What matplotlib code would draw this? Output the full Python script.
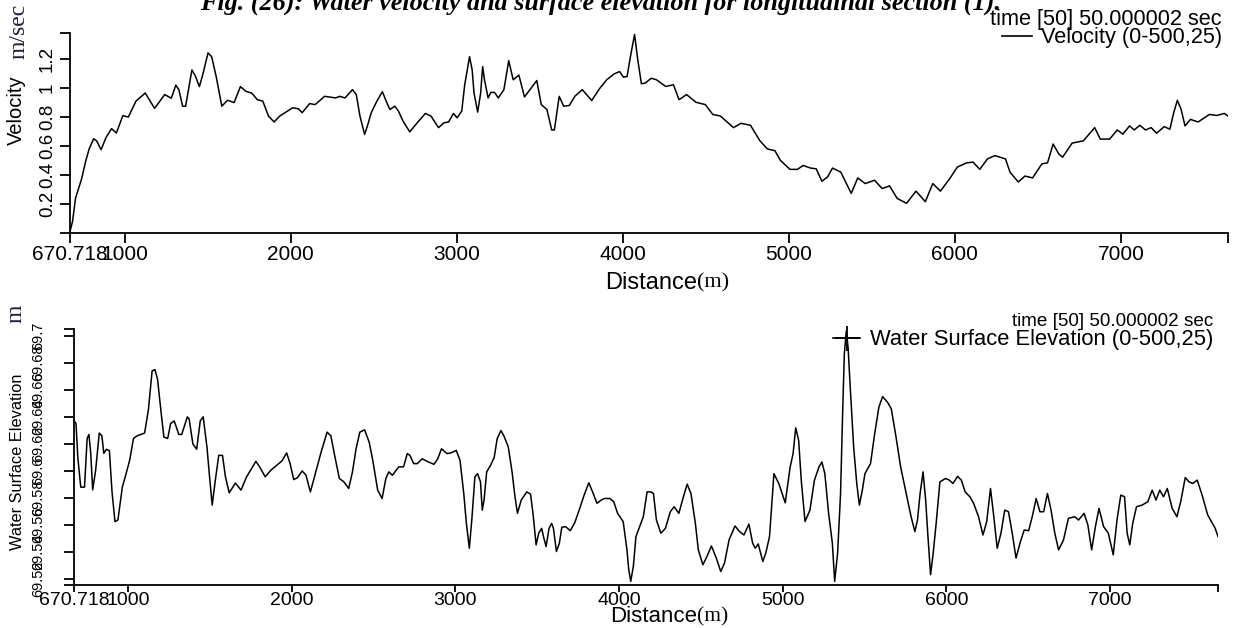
import matplotlib
matplotlib.use("Agg")
import matplotlib.pyplot as plt
from matplotlib.lines import Line2D

# velocity along the section (m/sec)
vel_dist = [670.7, 686, 704, 741, 764, 786, 813, 831, 858, 888, 921, 950, 989, 1022, 1068,
            1124, 1180, 1241, 1281, 1308, 1326, 1349, 1367, 1405, 1427, 1450, 1472, 1502, 1524,
            1551, 1585, 1619, 1659, 1697, 1731, 1765, 1799, 1832, 1866, 1900, 1934, 1979, 2012,
            2046, 2069, 2114, 2147, 2204, 2271, 2294, 2327, 2372, 2395, 2417, 2445, 2462, 2485,
            2519, 2552, 2575, 2597, 2627, 2649, 2676, 2717, 2766, 2811, 2845, 2890, 2924, 2951,
            2980, 3002, 3030, 3048, 3077, 3093, 3104, 3126, 3144, 3156, 3167, 3189, 3205, 3228,
            3250, 3284, 3313, 3340, 3374, 3408, 3441, 3482, 3509, 3543, 3572, 3588, 3617, 3644,
            3678, 3711, 3756, 3813, 3858, 3903, 3948, 3981, 4004, 4026, 4044, 4071, 4089, 4112,
            4134, 4172, 4203, 4259, 4305, 4339, 4384, 4441, 4497, 4542, 4588, 4622, 4667, 4712,
            4769, 4826, 4871, 4916, 4950, 5007, 5052, 5086, 5131, 5165, 5199, 5233, 5263, 5313,
            5347, 5376, 5415, 5460, 5516, 5562, 5607, 5652, 5709, 5766, 5822, 5867, 5913, 5969,
            6015, 6071, 6110, 6150, 6196, 6241, 6305, 6332, 6382, 6422, 6468, 6524, 6558, 6592,
            6626, 6649, 6706, 6774, 6808, 6842, 6876, 6932, 6978, 7012, 7052, 7080, 7114, 7148,
            7182, 7215, 7261, 7295, 7318, 7340, 7363, 7386, 7419, 7465, 7533, 7578, 7623, 7645]
vel_vals = [0.01, 0.08, 0.24, 0.375, 0.49, 0.58, 0.65, 0.636, 0.575, 0.66, 0.72, 0.69, 0.81, 0.80,
            0.91, 0.966, 0.86, 0.955, 0.93, 1.02, 0.99, 0.875, 0.875, 1.125, 1.08, 1.01, 1.10, 1.243,
            1.216, 1.08, 0.875, 0.916, 0.90, 1.01, 0.977, 0.966, 0.92, 0.91, 0.807, 0.766, 0.807,
            0.84, 0.864, 0.857, 0.83, 0.893, 0.886, 0.943, 0.932, 0.943, 0.932, 0.989, 0.955, 0.807,
            0.68, 0.739, 0.83, 0.91, 0.975, 0.91, 0.852, 0.875, 0.841, 0.773, 0.698, 0.766, 0.825,
            0.807, 0.727, 0.761, 0.766, 0.825, 0.795, 0.841, 1.023, 1.216, 1.125, 0.966, 0.834,
            0.966, 1.148, 1.057, 0.932, 0.97, 0.97, 0.932, 0.989, 1.189, 1.057, 1.09, 0.939, 0.989,
            1.052, 0.886, 0.852, 0.711, 0.711, 0.943, 0.875, 0.88, 0.943, 0.989, 0.914, 0.993,
            1.057, 1.098, 1.114, 1.075, 1.08, 1.205, 1.37, 1.205, 1.03, 1.034, 1.068, 1.057, 1.011,
            1.023, 0.92, 0.955, 0.902, 0.886, 0.818, 0.807, 0.773, 0.727, 0.757, 0.743, 0.636, 0.58,
            0.568, 0.50, 0.439, 0.439, 0.466, 0.448, 0.443, 0.357, 0.386, 0.448, 0.42, 0.341, 0.273,
            0.38, 0.341, 0.364, 0.307, 0.325, 0.239, 0.205, 0.289, 0.216, 0.341, 0.289, 0.375, 0.455,
            0.484, 0.489, 0.439, 0.511, 0.534, 0.511, 0.42, 0.352, 0.393, 0.38, 0.477, 0.484, 0.614,
            0.545, 0.523, 0.62, 0.636, 0.682, 0.727, 0.648, 0.648, 0.711, 0.682, 0.739, 0.711, 0.743,
            0.711, 0.727, 0.689, 0.734, 0.716, 0.83, 0.916, 0.852, 0.739, 0.784, 0.766, 0.818, 0.811,
            0.825, 0.807]

# water surface elevation (m)
wse_dist = [671, 683, 694, 712, 735, 751, 762, 773, 785, 803, 825, 841, 853, 869, 887, 903, 921,
            939, 966, 989, 1011, 1034, 1057, 1102, 1125, 1148, 1165, 1181, 1204, 1220, 1243, 1261,
            1283, 1311, 1329, 1363, 1374, 1397, 1420, 1442, 1460, 1483, 1499, 1515, 1533, 1555,
            1578, 1596, 1619, 1657, 1691, 1725, 1755, 1782, 1805, 1839, 1873, 1907, 1941, 1970,
            1991, 2013, 2036, 2065, 2088, 2115, 2145, 2179, 2217, 2240, 2263, 2292, 2319, 2349,
            2372, 2394, 2417, 2446, 2474, 2496, 2526, 2553, 2576, 2594, 2616, 2632, 2655, 2684,
            2707, 2723, 2746, 2768, 2798, 2836, 2870, 2893, 2916, 2950, 2973, 3006, 3029, 3052,
            3068, 3086, 3101, 3120, 3136, 3154, 3165, 3176, 3192, 3215, 3238, 3256, 3279, 3297,
            3324, 3347, 3365, 3380, 3403, 3437, 3460, 3476, 3494, 3510, 3528, 3539, 3555, 3573,
            3589, 3600, 3618, 3636, 3651, 3674, 3703, 3730, 3757, 3787, 3816, 3839, 3866, 3891,
            3911, 3945, 3968, 3992, 4026, 4049, 4060, 4072, 4088, 4104, 4127, 4149, 4172, 4195,
            4211, 4229, 4256, 4284, 4314, 4337, 4366, 4394, 4417, 4440, 4467, 4485, 4513, 4542,
            4565, 4595, 4622, 4645, 4673, 4709, 4737, 4764, 4794, 4817, 4833, 4851, 4879, 4897,
            4920, 4947, 4977, 5016, 5046, 5064, 5080, 5098, 5114, 5137, 5167, 5194, 5222, 5240,
            5258, 5281, 5304, 5318, 5336, 5354, 5366, 5377, 5389, 5400, 5411, 5434, 5453, 5469,
            5487, 5503, 5537, 5561, 5588, 5611, 5641, 5664, 5693, 5721, 5755, 5785, 5808, 5824,
            5840, 5858, 5874, 5888, 5904, 5920, 5938, 5961, 5995, 6018, 6041, 6069, 6092, 6115,
            6144, 6167, 6197, 6224, 6247, 6270, 6288, 6311, 6334, 6357, 6380, 6403, 6426, 6453,
            6476, 6503, 6526, 6549, 6572, 6595, 6618, 6640, 6663, 6686, 6716, 6746, 6785, 6808,
            6842, 6865, 6888, 6911, 6933, 6961, 6990, 7020, 7043, 7066, 7089, 7105, 7121, 7139,
            7162, 7196, 7231, 7258, 7281, 7304, 7327, 7350, 7380, 7409, 7432, 7460, 7483, 7506,
            7533, 7563, 7597, 7620, 7643, 7660]
wse_vals = [69.6373, 69.635, 69.610, 69.588, 69.588, 69.624, 69.627, 69.613, 69.586, 69.6005,
            69.628, 69.626, 69.613, 69.616, 69.615, 69.5845, 69.5625, 69.5637, 69.588, 69.598,
            69.608, 69.624, 69.626, 69.628, 69.645, 69.674, 69.675, 69.668, 69.642, 69.625, 69.624,
            69.635, 69.637, 69.627, 69.627, 69.640, 69.6385, 69.620, 69.616, 69.637, 69.640,
            69.6177, 69.5956, 69.5747, 69.592, 69.6115, 69.6115, 69.5956, 69.5838, 69.591, 69.5858,
            69.5956, 69.6017, 69.6071, 69.603, 69.5956, 69.6005, 69.604, 69.6074, 69.6133, 69.6054,
            69.5936, 69.595, 69.600, 69.5968, 69.5845, 69.598, 69.6133, 69.6287, 69.626, 69.6115,
            69.5944, 69.592, 69.587, 69.5993, 69.6164, 69.6287, 69.6304, 69.6213, 69.6079, 69.5858,
            69.5796, 69.5944, 69.5993, 69.5968, 69.5993, 69.603, 69.603, 69.6128, 69.6115, 69.6054,
            69.6054, 69.609, 69.6066, 69.6049, 69.609, 69.6164, 69.6128, 69.6133, 69.6152, 69.6079,
            69.5833, 69.5612, 69.5428, 69.5637, 69.5956, 69.598, 69.592, 69.571, 69.5784, 69.5993,
            69.604, 69.610, 69.6238, 69.6299, 69.626, 69.6177, 69.5993, 69.5809, 69.5686, 69.5784,
            69.5845, 69.5828, 69.5674, 69.5453, 69.554, 69.5575, 69.5514, 69.544, 69.5575, 69.5612,
            69.5575, 69.5404, 69.5465, 69.5583, 69.5588, 69.5558, 69.5617, 69.571, 69.582, 69.5912,
            69.5845, 69.576, 69.5784, 69.5796, 69.5796, 69.5772, 69.5686, 69.5625, 69.5416,
            69.5269, 69.5183, 69.5293, 69.5514, 69.5588, 69.5661, 69.5845, 69.5845, 69.5833,
            69.5637, 69.5539, 69.5575, 69.5698, 69.5735, 69.5686, 69.5809, 69.5902, 69.5833,
            69.5612, 69.5416, 69.5306, 69.5379, 69.5445, 69.5355, 69.5256, 69.5318, 69.549, 69.5593,
            69.5551, 69.5526, 69.5607, 69.5465, 69.5428, 69.546, 69.533, 69.5391, 69.5514, 69.598,
            69.5906, 69.5764, 69.6029, 69.6128, 69.6319, 69.6226, 69.593, 69.5625, 69.571, 69.593,
            69.6029, 69.6066, 69.598, 69.5686, 69.5465, 69.5183, 69.5391, 69.5833, 69.6398,
            69.6864, 69.7036, 69.6913, 69.6667, 69.6177, 69.5907, 69.5747, 69.5858, 69.598, 69.6054,
            69.6263, 69.6471, 69.655, 69.6508, 69.6459, 69.625, 69.603, 69.5833, 69.5661, 69.5551,
            69.5637, 69.5833, 69.5993, 69.5784, 69.5514, 69.5232, 69.5391, 69.5612, 69.5919,
            69.5944, 69.5932, 69.5907, 69.596, 69.5932, 69.5845, 69.5809, 69.576, 69.5661, 69.5526,
            69.5625, 69.587, 69.5686, 69.5428, 69.5539, 69.571, 69.5698, 69.5539, 69.5355, 69.5477,
            69.5563, 69.5558, 69.5666, 69.5796, 69.5698, 69.5698, 69.5833, 69.571, 69.5539, 69.5416,
            69.5489, 69.5649, 69.5661, 69.5637, 69.5686, 69.56, 69.5416, 69.5588, 69.5723, 69.5588,
            69.5539, 69.5379, 69.5637, 69.5821, 69.5809, 69.5539, 69.5453, 69.5612, 69.5735,
            69.5747, 69.5772, 69.5858, 69.5784, 69.5858, 69.5809, 69.587, 69.5723, 69.5661, 69.5772,
            69.5951, 69.5919, 69.5907, 69.5932, 69.5821, 69.5674, 69.5625, 69.5575, 69.5514]

x_ticks = [670.718, 1000, 2000, 3000, 4000, 5000, 6000, 7000]
x_labels = ["670.718", "1000", "2000", "3000", "4000", "5000", "6000", "7000"]
vel_ticks = [0.2, 0.4, 0.6, 0.8, 1.0, 1.2]
vel_labels = ["0.2", "0.4", "0.6", "0.8", "1", "1.2"]
wse_ticks = [69.52, 69.54, 69.56, 69.58, 69.60, 69.62, 69.64, 69.66, 69.68, 69.70]
wse_labels = ["69.52", "69.54", "69.56", "69.58", "69.6", "69.62", "69.64", "69.66", "69.68", "69.7"]

sans = "Liberation Sans"
serif = "Liberation Serif"
W, H = 1234, 628

fig = plt.figure(figsize=(12.34, 6.28), dpi=100)
fig.patch.set_facecolor("white")


def style_axes(ax, xlim, ylim, xsize, ysize, xpad, ypad):
    ax.set_xlim(*xlim)
    ax.set_ylim(*ylim)
    for s in ["top", "right"]:
        ax.spines[s].set_visible(False)
    for s in ["left", "bottom"]:
        ax.spines[s].set_linewidth(1.3)
    ax.tick_params(axis="both", which="both", direction="out", width=1.3, length=7, color="black")
    ax.tick_params(axis="x", pad=xpad, labelsize=xsize)
    ax.tick_params(axis="y", pad=ypad, labelsize=ysize)
    # little end caps of the axes
    ax.set_xticks([xlim[1]], minor=True)
    ax.set_yticks([ylim[0], ylim[1]], minor=True)
    for lab in ax.get_xticklabels():
        lab.set_fontfamily(sans)
    for lab in ax.get_yticklabels():
        lab.set_fontfamily(sans)
        lab.set_rotation(90)
        lab.set_va("center")
        lab.set_ha("right")


# ---- top: velocity
ax1 = fig.add_axes([70 / W, 1 - 233 / H, 1158 / W, 200 / H])
ax1.plot(vel_dist, vel_vals, color="black", lw=1.1)
ax1.set_xticks(x_ticks)
ax1.set_xticklabels(x_labels)
ax1.set_yticks(vel_ticks)
ax1.set_yticklabels(vel_labels)
style_axes(ax1, (670.718, 7645), (0, 1.38), 15, 13.5, 2, 3)

fig.text(16 / W, 1 - 110 / H, "Velocity", rotation=90, ha="center", va="center",
         fontsize=14.5, family=sans)
fig.text(19 / W, 1 - 31 / H, "m/sec", rotation=90, ha="center", va="center",
         fontsize=17, family=serif, color="#1c1c3c")
fig.text(697 / W, 1 - 283 / H, "Distance", ha="right", va="center", fontsize=17, family=sans)
fig.text(697 / W, 1 - 283 / H, "(m)", ha="left", va="center", fontsize=16, family=serif)

fig.text(1222 / W, 1 - 20 / H, "time [50] 50.000002 sec", ha="right", va="center",
         fontsize=15.7, family=sans)
h1 = Line2D([], [], color="black", lw=1.2)
ax1.legend([h1], ["Velocity (0-500,25)"], loc="center right",
           bbox_to_anchor=(1222 / W, 1 - 38 / H), bbox_transform=fig.transFigure,
           frameon=False, handlelength=1.4, handletextpad=0.4, borderpad=0, borderaxespad=0,
           prop={"family": sans, "size": 15.7})

# ---- bottom: water surface elevation
ax2 = fig.add_axes([74 / W, 1 - 585 / H, 1144 / W, 256 / H])
ax2.plot(wse_dist, wse_vals, color="black", lw=1.1)
ax2.set_xticks(x_ticks)
ax2.set_xticklabels(x_labels)
ax2.set_yticks(wse_ticks)
ax2.set_yticklabels(wse_labels)
style_axes(ax2, (670.718, 7660), (69.5156, 69.705), 14, 10.5, 0, 14)
ax2.tick_params(axis="x", which="both", length=5)

fig.text(18 / W, 1 - 462 / H, "Water Surface Elevation", rotation=90, ha="center", va="center",
         fontsize=11.8, family=sans)
fig.text(16 / W, 1 - 314 / H, "m", rotation=90, ha="center", va="center",
         fontsize=17, family=serif, color="#1c1c3c")
fig.text(697 / W, 1 - 617 / H, "Distance", ha="right", va="center", fontsize=16, family=sans)
fig.text(697 / W, 1 - 617 / H, "(m)", ha="left", va="center", fontsize=15.5, family=serif)

fig.text(1213 / W, 1 - 322 / H, "time [50] 50.000002 sec", ha="right", va="center",
         fontsize=13.6, family=sans)
h2 = Line2D([], [], color="black", lw=1.2, marker="+", markersize=18, markeredgewidth=1.3)
ax2.legend([h2], ["Water Surface Elevation (0-500,25)"], loc="center right",
           bbox_to_anchor=(1213 / W, 1 - 340 / H), bbox_transform=fig.transFigure,
           frameon=False, handlelength=1.2, handletextpad=0.45, borderpad=0, borderaxespad=0,
           prop={"family": sans, "size": 15.8})

# caption, partly cut at the top edge
fig.text(600 / W, 1 - 10 / H,
         "Fig. (26): Water velocity and surface elevation for longitudinal section (1).",
         ha="center", va="baseline", fontsize=18.8, family=serif, style="italic", weight="bold")

fig.savefig("out.png", dpi=100, facecolor="white")
